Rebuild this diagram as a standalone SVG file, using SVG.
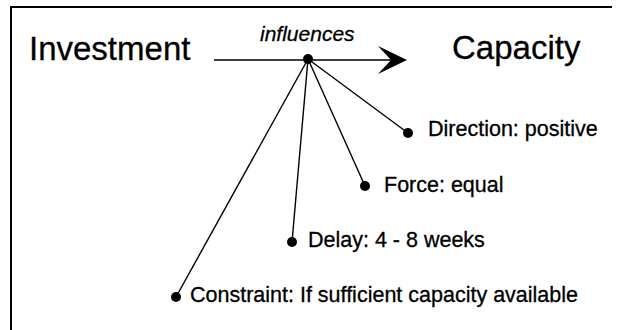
<svg xmlns="http://www.w3.org/2000/svg" width="618" height="330" viewBox="0 0 618 330">
<style>
  text { font-family: "Liberation Sans", Arial, sans-serif; fill: #000; stroke: #000; stroke-width: 0.3; }
  .big { font-size: 33px; }
  .lbl { font-size: 21.5px; }
  .it { font-size: 21px; font-style: italic; }
  .ln { stroke: #000; stroke-width: 1.4; fill: none; }
  .dot { fill: #000; }
</style>
<rect width="618" height="330" fill="#fff"/>
<g id="frame">
  <path d="M11 330 V7 H612" stroke="#000" stroke-width="2" fill="none"/>
</g>
<g id="investment"><text class="big" x="29" y="60">Investment</text></g>
<g id="capacity"><text class="big" x="452" y="59">Capacity</text></g>
<g id="connectors">
  <line class="ln" x1="214" y1="60" x2="391" y2="60"/>
  <path d="M407 60 L378 46 L391 60 L378 74 Z" fill="#000"/>
  <line class="ln" x1="308" y1="59" x2="408" y2="133"/>
  <line class="ln" x1="308" y1="59" x2="365" y2="186"/>
  <line class="ln" x1="308" y1="59" x2="292" y2="242"/>
  <line class="ln" x1="308" y1="59" x2="176" y2="297"/>
</g>
<g id="influences">
  <text class="it" x="260" y="41">influences</text>
  <circle class="dot" cx="308" cy="59" r="5"/>
</g>
<g id="direction">
  <circle class="dot" cx="408" cy="133" r="5"/>
  <text class="lbl" x="428" y="136">Direction: positive</text>
</g>
<g id="force">
  <circle class="dot" cx="365" cy="186" r="5"/>
  <text class="lbl" x="384" y="192">Force: equal</text>
</g>
<g id="delay">
  <circle class="dot" cx="292" cy="242" r="5"/>
  <text class="lbl" x="308" y="247">Delay: 4 - 8 weeks</text>
</g>
<g id="constraint">
  <circle class="dot" cx="176" cy="297" r="5"/>
  <text class="lbl" x="190" y="302">Constraint: If sufficient capacity available</text>
</g>
</svg>
